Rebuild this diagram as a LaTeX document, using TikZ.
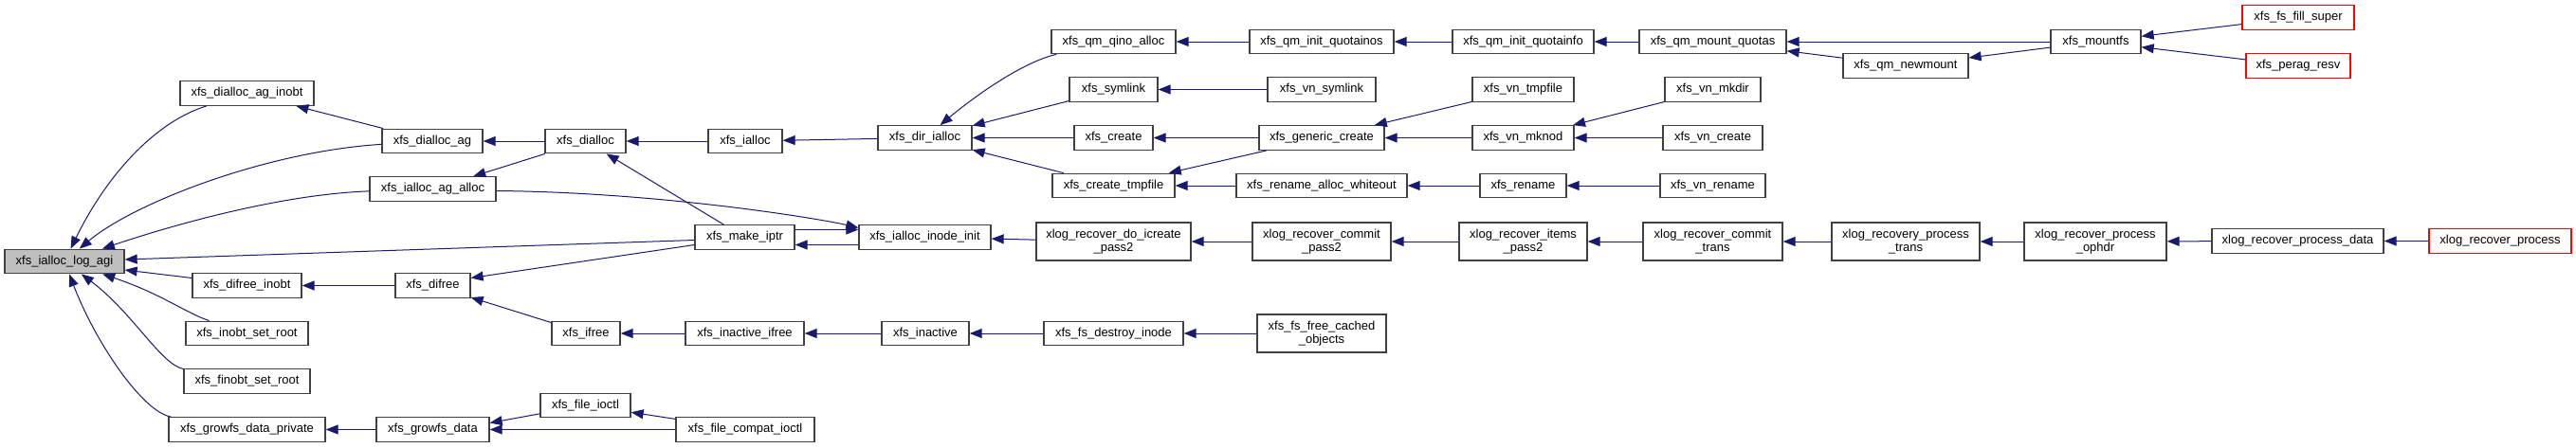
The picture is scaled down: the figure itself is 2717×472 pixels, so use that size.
\documentclass[tikz,border=0pt]{standalone}
\usepackage{fontspec}
\setmainfont{Liberation Sans}
\usetikzlibrary{arrows.meta,calc}
\definecolor{edgec}{HTML}{191970}
\definecolor{boxc}{HTML}{404040}
\definecolor{redc}{HTML}{FF0000}
\begin{document}
\begin{tikzpicture}[x=1pt,y=-1pt,
 fn/.style={draw=boxc, line width=1.3pt, fill=white, rectangle, inner sep=0pt, minimum height=25.5pt, align=center, font=\fontsize{13}{14.5}\selectfont},
 fnr/.style={fn, draw=redc},
 fng/.style={fn, fill=gray!50},
 tall/.style={minimum height=40pt},
 cl/.style={draw=edgec, line width=1pt, {Triangle[length=13pt,width=10pt]}-}
]
\path[use as bounding box, fill=white] (0,0) rectangle (2717,472);

% column 0
\node[fng, minimum width=126] (logagi) at (68,276) {xfs\_ialloc\_log\_agi};
% column 1
\node[fn, minimum width=141] (dagino) at (260.5,98.5) {xfs\_dialloc\_ag\_inobt};
\node[fn, minimum width=115] (difreeino) at (260.5,301.5) {xfs\_difree\_inobt};
\node[fn, minimum width=129] (inobtroot) at (260.5,352) {xfs\_inobt\_set\_root};
\node[fn, minimum width=133] (finobtroot) at (260.5,402.5) {xfs\_finobt\_set\_root};
\node[fn, minimum width=165] (growpriv) at (260.5,453.5) {xfs\_growfs\_data\_private};
% column 2
\node[fn, minimum width=106] (dag) at (456,149) {xfs\_dialloc\_ag};
\node[fn, minimum width=133] (iagalloc) at (456.5,199.5) {xfs\_ialloc\_ag\_alloc};
\node[fn, minimum width=79] (difree) at (456.5,301.5) {xfs\_difree};
\node[fn, minimum width=119] (growdata) at (456.5,453.5) {xfs\_growfs\_data};
% column 3
\node[fn, minimum width=85] (dialloc) at (617.5,149) {xfs\_dialloc};
\node[fn, minimum width=72] (ifree) at (618,352) {xfs\_ifree};
\node[fn, minimum width=95] (fioctl) at (617.5,428) {xfs\_file\_ioctl};
% column 4
\node[fn, minimum width=78] (ialloc) at (786,149) {xfs\_ialloc};
\node[fn, minimum width=105] (makeiptr) at (785.5,250.5) {xfs\_make\_iptr};
\node[fn, minimum width=125] (inactifree) at (785.5,352) {xfs\_inactive\_ifree};
\node[fn, minimum width=146] (fcioctl) at (786,453.5) {xfs\_file\_compat\_ioctl};
% column 5
\node[fn, minimum width=99] (dirialloc) at (975.5,145.5) {xfs\_dir\_ialloc};
\node[fn, minimum width=139] (iinit) at (975.5,250.5) {xfs\_ialloc\_inode\_init};
\node[fn, minimum width=92] (inactive) at (976,352) {xfs\_inactive};
% column 6
\node[fn, minimum width=131] (qino) at (1174.5,44) {xfs\_qm\_qino\_alloc};
\node[fn, minimum width=93] (symlink) at (1174.5,94.5) {xfs\_symlink};
\node[fn, minimum width=83] (create) at (1174.5,145.5) {xfs\_create};
\node[fn, minimum width=129] (ctmp) at (1174.5,196) {xfs\_create\_tmpfile};
\node[fn, tall, minimum width=163] (icreate) at (1174.5,255) {xlog\_recover\_do\_icreate\\\_pass2};
\node[fn, minimum width=147] (destroy) at (1174.5,352) {xfs\_fs\_destroy\_inode};
% column 7
\node[fn, minimum width=152] (quotainos) at (1394,44) {xfs\_qm\_init\_quotainos};
\node[fn, minimum width=114] (vnsymlink) at (1394,94.5) {xfs\_vn\_symlink};
\node[fn, minimum width=132] (gencreate) at (1394,145.5) {xfs\_generic\_create};
\node[fn, minimum width=180] (whiteout) at (1394,196) {xfs\_rename\_alloc\_whiteout};
\node[fn, tall, minimum width=146] (commitp2) at (1394,255) {xlog\_recover\_commit\\\_pass2};
\node[fn, tall, minimum width=136] (cached) at (1394,352) {xfs\_fs\_free\_cached\\\_objects};
% column 8
\node[fn, minimum width=149] (quotainfo) at (1606.5,44) {xfs\_qm\_init\_quotainfo};
\node[fn, minimum width=107] (vntmp) at (1606.5,94.5) {xfs\_vn\_tmpfile};
\node[fn, minimum width=107] (vnmknod) at (1606.5,145.5) {xfs\_vn\_mknod};
\node[fn, minimum width=91] (rename) at (1606.5,196) {xfs\_rename};
\node[fn, tall, minimum width=135] (itemsp2) at (1606.5,255) {xlog\_recover\_items\\\_pass2};
% column 9
\node[fn, minimum width=155] (mountq) at (1806.5,44) {xfs\_qm\_mount\_quotas};
\node[fn, minimum width=101] (vnmkdir) at (1806.5,94.5) {xfs\_vn\_mkdir};
\node[fn, minimum width=105] (vncreate) at (1806.5,145.5) {xfs\_vn\_create};
\node[fn, minimum width=111] (vnrename) at (1806.5,196) {xfs\_vn\_rename};
\node[fn, tall, minimum width=147] (ctrans) at (1806.5,255) {xlog\_recover\_commit\\\_trans};
% column 10
\node[fn, minimum width=132] (newmount) at (2010,69.5) {xfs\_qm\_newmount};
\node[fn, tall, minimum width=156] (ptrans) at (2010,255) {xlog\_recovery\_process\\\_trans};
% column 11
\node[fn, minimum width=95] (mountfs) at (2210.5,44) {xfs\_mountfs};
\node[fn, tall, minimum width=150] (ophdr) at (2210,255) {xlog\_recover\_process\\\_ophdr};
% column 12
\node[fnr, minimum width=118] (fillsuper) at (2424,18.5) {xfs\_fs\_fill\_super};
\node[fnr, minimum width=110] (peragresv) at (2424,69.5) {xfs\_perag\_resv};
\node[fn, minimum width=181] (pdata) at (2423.5,254.5) {xlog\_recover\_process\_data};
% column 13
\node[fnr, minimum width=150] (process) at (2637,254.5) {xlog\_recover\_process};

% edges into xfs_ialloc_log_agi
\draw[cl] (logagi) .. controls (110,190) and (160,130) .. (dagino);
\draw[cl] (logagi) .. controls (140,215) and (280,160) .. (dag);
\draw[cl] (logagi) .. controls (190,235) and (300,205) .. (iagalloc);
\draw[cl] ($(logagi.east)+(0,-2)$) -- ($(makeiptr.west)+(0,3)$);
\draw[cl] ($(logagi.east)+(0,9)$) -- ($(difreeino.west)+(0,-8)$);
\draw[cl] (logagi) .. controls (170,310) and (195,330) .. (inobtroot);
\draw[cl] (logagi) .. controls (140,330) and (170,385) .. (finobtroot);
\draw[cl] (logagi) .. controls (100,360) and (150,435) .. (growpriv);

% left part
\draw[cl] (dagino) -- (dag);
\draw[cl] (dag) -- (dialloc);
\draw[cl] (iagalloc) -- (dialloc);
\draw[cl] (dialloc) -- (makeiptr);
\draw[cl] (dialloc) -- (ialloc);
\draw[cl] ($(iinit.west)+(0,-10)$) .. controls (870,232) and (700,203) .. ($(iagalloc.east)+(0,2)$);
\draw[cl] ($(iinit.west)+(0,-8)$) -- ($(makeiptr.east)+(0,-8)$);
\draw[cl] ($(makeiptr.east)+(0,8)$) -- ($(iinit.west)+(0,8)$);
\draw[cl] ($(difree.east)+(0,-8)$) -- ($(makeiptr.west)+(0,8)$);
\draw[cl] (difreeino) -- (difree);
\draw[cl] (difree) -- (ifree);
\draw[cl] (ifree) -- (inactifree);
\draw[cl] (inactifree) -- (inactive);
\draw[cl] (inactive) -- (destroy);
\draw[cl] (destroy) -- (cached);
\draw[cl] (growpriv) -- (growdata);
\draw[cl] ($(growdata.east)+(0,-7)$) -- (fioctl);
\draw[cl] (growdata) -- (fcioctl);
\draw[cl] (fioctl) -- (fcioctl);

% dir_ialloc branch
\draw[cl] (ialloc) -- (dirialloc);
\draw[cl] (dirialloc) .. controls (1030,100) and (1080,65) .. (qino);
\draw[cl] (dirialloc) -- (symlink);
\draw[cl] (dirialloc) -- (create);
\draw[cl] (dirialloc) -- (ctmp);
\draw[cl] (qino) -- (quotainos);
\draw[cl] (quotainos) -- (quotainfo);
\draw[cl] (quotainfo) -- (mountq);
\draw[cl] (mountq) -- (mountfs);
\draw[cl] (mountq) -- (newmount);
\draw[cl] (newmount) -- (mountfs);
\draw[cl] (mountfs) -- (fillsuper);
\draw[cl] (mountfs) -- (peragresv);
\draw[cl] (symlink) -- (vnsymlink);
\draw[cl] (create) -- (gencreate);
\draw[cl] (ctmp) -- (gencreate);
\draw[cl] (ctmp) -- (whiteout);
\draw[cl] (gencreate) -- (vntmp);
\draw[cl] (gencreate) -- (vnmknod);
\draw[cl] (vnmknod) -- (vnmkdir);
\draw[cl] (vnmknod) -- (vncreate);
\draw[cl] (whiteout) -- (rename);
\draw[cl] (rename) -- (vnrename);

% log recovery chain
\draw[cl] (iinit) -- (icreate);
\draw[cl] (icreate) -- (commitp2);
\draw[cl] (commitp2) -- (itemsp2);
\draw[cl] (itemsp2) -- (ctrans);
\draw[cl] (ctrans) -- (ptrans);
\draw[cl] (ptrans) -- (ophdr);
\draw[cl] (ophdr) -- (pdata);
\draw[cl] (pdata) -- (process);
\end{tikzpicture}
\end{document}
